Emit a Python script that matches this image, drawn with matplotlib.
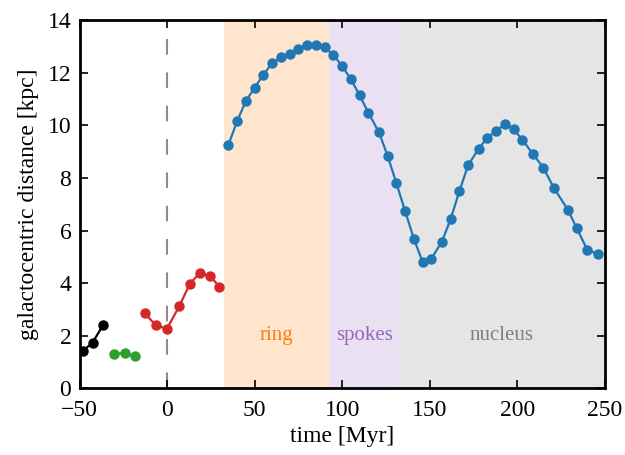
import matplotlib.pyplot as plt

plt.rcParams['font.family'] = ['Liberation Serif', 'DejaVu Serif']
plt.rcParams['mathtext.fontset'] = 'stix'

# star cluster tracks: time [Myr] and galactocentric distance [kpc]
t_black = [-48.3, -42.6, -36.7]
r_black = [1.42, 1.74, 2.40]

t_green = [-30.2, -24.3, -18.6]
r_green = [1.31, 1.35, 1.22]

t_red = [-12.9, -6.4, -0.1, 6.9, 13.0, 18.7, 24.6, 29.8]
r_red = [2.86, 2.40, 2.27, 3.12, 3.98, 4.39, 4.27, 3.87]

t_blue = [35, 40, 45, 50, 55, 60, 65, 70, 75, 80, 85, 90, 95, 100, 105, 110,
          115, 121, 126, 131, 136, 141, 146, 151, 157, 162, 167, 172, 178,
          183, 188, 193, 198, 203, 209, 215, 221, 229, 234, 240, 246]
r_blue = [9.25, 10.16, 10.92, 11.43, 11.92, 12.36, 12.58, 12.70, 12.91, 13.06,
          13.06, 12.96, 12.68, 12.25, 11.75, 11.14, 10.48, 9.74, 8.84, 7.80,
          6.74, 5.69, 4.80, 4.93, 5.58, 6.43, 7.50, 8.48, 9.11, 9.53, 9.78,
          10.05, 9.85, 9.45, 8.91, 8.39, 7.62, 6.79, 6.10, 5.28, 5.11]

# regions crossed
regions = ['ring', 'spokes', 'nucleus']
region_start = [32.6, 92.6, 132.6]
region_end = [92.6, 132.6, 250]
region_colors = ['tab:orange', 'tab:purple', 'tab:gray']

fig = plt.figure(figsize=(6.25, 4.55), dpi=100)
ax = fig.add_axes([0.1274, 0.1462, 0.84, 0.8098])

for name, a, b, c in zip(regions, region_start, region_end, region_colors):
    ax.axvspan(a, b, color=c, alpha=0.2, lw=0, zorder=0)
    ax.text(0.5 * (a + b), 2.0, name, color=c, ha='center', va='center',
            fontsize=15)

ax.axvline(0, color='gray', lw=1.5, dashes=(7.5, 8.5), alpha=0.9, zorder=1)

for t, r, c in [(t_black, r_black, 'k'), (t_green, r_green, 'tab:green'),
                (t_red, r_red, 'tab:red'), (t_blue, r_blue, 'tab:blue')]:
    ax.plot(t, r, '-o', color=c, lw=1.6, ms=6.5, zorder=3)

ax.set_xlim(-50, 250)
ax.set_ylim(0, 14)
ax.set_xticks([-50, 0, 50, 100, 150, 200, 250])
ax.set_yticks(range(0, 15, 2))
ax.tick_params(direction='in', top=True, right=True, length=6, width=1.2,
               labelsize=17)
ax.tick_params(axis='x', pad=8)
ax.tick_params(axis='y', pad=6)
for s in ax.spines.values():
    s.set_linewidth(2)
ax.set_xlabel('time [Myr]', fontsize=17, labelpad=4)
ax.set_ylabel('galactocentric distance [kpc]', fontsize=17, labelpad=6)

fig.savefig('out.png', dpi=100)
